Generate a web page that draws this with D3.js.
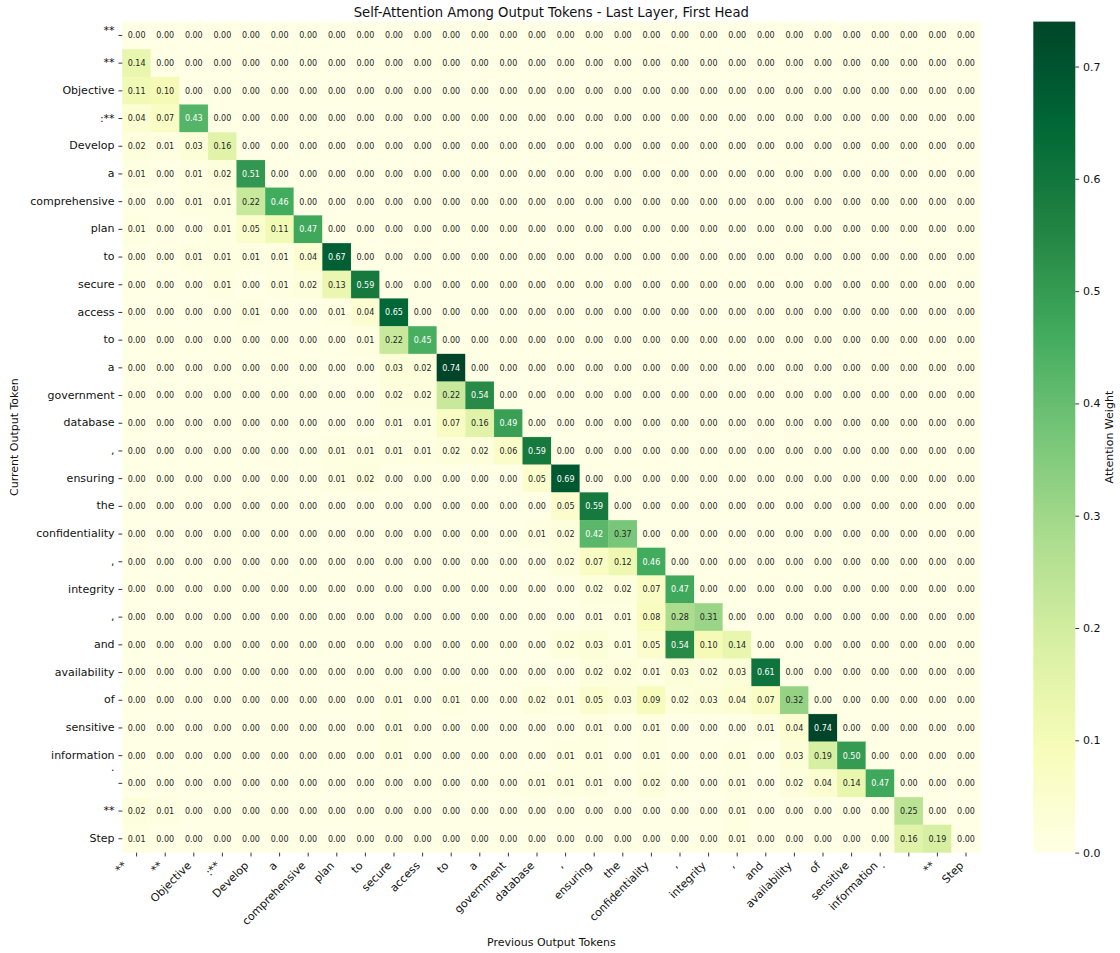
<!DOCTYPE html>
<html><head><meta charset="utf-8">
<script src="https://cdn.jsdelivr.net/npm/d3@7"></script>
<style>body{margin:0;background:#fff} svg text{font-family:"DejaVu Sans",sans-serif}</style>
</head><body><svg id="c" width="1120" height="953"></svg>
<script>
// ---- data ----
const tokens = ["**\n","**","Objective",":**","Develop","a","comprehensive","plan","to","secure","access","to","a","government","database",",","ensuring","the","confidentiality",",","integrity",",","and","availability","of","sensitive","information",".\n\n\n","**","Step"];
const attention = [
[0,0,0,0,0,0,0,0,0,0,0,0,0,0,0,0,0,0,0,0,0,0,0,0,0,0,0,0,0,0],
[0.14,0,0,0,0,0,0,0,0,0,0,0,0,0,0,0,0,0,0,0,0,0,0,0,0,0,0,0,0,0],
[0.11,0.10,0,0,0,0,0,0,0,0,0,0,0,0,0,0,0,0,0,0,0,0,0,0,0,0,0,0,0,0],
[0.04,0.07,0.43,0,0,0,0,0,0,0,0,0,0,0,0,0,0,0,0,0,0,0,0,0,0,0,0,0,0,0],
[0.02,0.01,0.03,0.16,0,0,0,0,0,0,0,0,0,0,0,0,0,0,0,0,0,0,0,0,0,0,0,0,0,0],
[0.01,0,0.01,0.02,0.51,0,0,0,0,0,0,0,0,0,0,0,0,0,0,0,0,0,0,0,0,0,0,0,0,0],
[0,0,0.01,0.01,0.22,0.46,0,0,0,0,0,0,0,0,0,0,0,0,0,0,0,0,0,0,0,0,0,0,0,0],
[0.01,0,0,0.01,0.05,0.11,0.47,0,0,0,0,0,0,0,0,0,0,0,0,0,0,0,0,0,0,0,0,0,0,0],
[0,0,0.01,0.01,0.01,0.01,0.04,0.67,0,0,0,0,0,0,0,0,0,0,0,0,0,0,0,0,0,0,0,0,0,0],
[0,0,0,0.01,0,0.01,0.02,0.13,0.59,0,0,0,0,0,0,0,0,0,0,0,0,0,0,0,0,0,0,0,0,0],
[0,0,0,0,0.01,0,0,0.01,0.04,0.65,0,0,0,0,0,0,0,0,0,0,0,0,0,0,0,0,0,0,0,0],
[0,0,0,0,0,0,0,0,0.01,0.22,0.45,0,0,0,0,0,0,0,0,0,0,0,0,0,0,0,0,0,0,0],
[0,0,0,0,0,0,0,0,0,0.03,0.02,0.74,0,0,0,0,0,0,0,0,0,0,0,0,0,0,0,0,0,0],
[0,0,0,0,0,0,0,0,0,0.02,0.02,0.22,0.54,0,0,0,0,0,0,0,0,0,0,0,0,0,0,0,0,0],
[0,0,0,0,0,0,0,0,0,0.01,0.01,0.07,0.16,0.49,0,0,0,0,0,0,0,0,0,0,0,0,0,0,0,0],
[0,0,0,0,0,0,0,0.01,0.01,0.01,0.01,0.02,0.02,0.06,0.59,0,0,0,0,0,0,0,0,0,0,0,0,0,0,0],
[0,0,0,0,0,0,0,0.01,0.02,0,0,0,0,0,0.05,0.69,0,0,0,0,0,0,0,0,0,0,0,0,0,0],
[0,0,0,0,0,0,0,0,0,0,0,0,0,0,0,0.05,0.59,0,0,0,0,0,0,0,0,0,0,0,0,0],
[0,0,0,0,0,0,0,0,0,0,0,0,0,0,0.01,0.02,0.42,0.37,0,0,0,0,0,0,0,0,0,0,0,0],
[0,0,0,0,0,0,0,0,0,0,0,0,0,0,0,0.02,0.07,0.12,0.46,0,0,0,0,0,0,0,0,0,0,0],
[0,0,0,0,0,0,0,0,0,0,0,0,0,0,0,0,0.02,0.02,0.07,0.47,0,0,0,0,0,0,0,0,0,0],
[0,0,0,0,0,0,0,0,0,0,0,0,0,0,0,0,0.01,0.01,0.08,0.28,0.31,0,0,0,0,0,0,0,0,0],
[0,0,0,0,0,0,0,0,0,0,0,0,0,0,0,0.02,0.03,0.01,0.05,0.54,0.10,0.14,0,0,0,0,0,0,0,0],
[0,0,0,0,0,0,0,0,0,0,0,0,0,0,0,0,0.02,0.02,0.01,0.03,0.02,0.03,0.61,0,0,0,0,0,0,0],
[0,0,0,0,0,0,0,0,0,0.01,0,0.01,0,0,0.02,0.01,0.05,0.03,0.09,0.02,0.03,0.04,0.07,0.32,0,0,0,0,0,0],
[0,0,0,0,0,0,0,0,0,0.01,0,0,0,0,0,0,0.01,0,0.01,0,0,0,0.01,0.04,0.74,0,0,0,0,0],
[0,0,0,0,0,0,0,0,0,0.01,0,0,0,0,0,0.01,0.01,0,0.01,0,0,0.01,0,0.03,0.19,0.50,0,0,0,0],
[0,0,0,0,0,0,0,0,0,0,0,0,0,0,0.01,0.01,0.01,0,0.02,0,0,0.01,0,0.02,0.04,0.14,0.47,0,0,0],
[0.02,0.01,0,0,0,0,0,0,0,0,0,0,0,0,0,0,0,0,0,0,0,0.01,0,0,0,0,0,0.25,0,0],
[0.01,0,0,0,0,0,0,0,0,0,0,0,0,0,0,0,0,0,0,0,0,0.01,0,0,0,0,0,0.16,0.19,0]
];
const colorTicks = [0, 0.1, 0.2, 0.3, 0.4, 0.5, 0.6, 0.7];
const ylgn = ["#ffffe5","#f7fcb9","#d9f0a3","#addd8e","#78c679","#41ab5d","#238443","#006837","#004529"];
const titleText = "Self-Attention Among Output Tokens - Last Layer, First Head";
const xLabel = "Previous Output Tokens";
const yLabel = "Current Output Token";
const cbarLabel = "Attention Weight";

// ---- layout ----
const L = 122.3, R = 980.3, T = 21.6, B = 852.6;
const FS = 11, TICK = 3.85, PAD = 3.85;
const STEP = 0.912 * FS; // matplotlib line step
const svg = d3.select("#c");
const n = tokens.length;
const vmax = d3.max(attention.flat());

const x = d3.scaleBand().domain(d3.range(n)).range([L, R]).padding(0);
const y = d3.scaleBand().domain(d3.range(n)).range([T, B]).padding(0);
const color = d3.scaleLinear()
  .domain(ylgn.map((_, i) => vmax * i / (ylgn.length - 1)))
  .range(ylgn).interpolate(d3.interpolateRgb).clamp(true);

function lum(c) {
  const rgb = d3.rgb(c);
  const f = v => { v /= 255; return v <= 0.03928 ? v / 12.92 : Math.pow((v + 0.055) / 1.055, 2.4); };
  return 0.2126 * f(rgb.r) + 0.7152 * f(rgb.g) + 0.0722 * f(rgb.b);
}

const cells = [];
attention.forEach((row, i) => row.forEach((v, j) => cells.push({i, j, v})));

const g = svg.append("g");
g.selectAll("rect").data(cells).join("rect")
  .attr("x", d => x(d.j)).attr("y", d => y(d.i))
  .attr("width", x.bandwidth()).attr("height", y.bandwidth())
  .attr("fill", d => color(d.v)).attr("stroke", d => color(d.v)).attr("stroke-width", 0.3);

g.selectAll("text.ann").data(cells).join("text").attr("class", "ann")
  .attr("x", d => x(d.j) + x.bandwidth() / 2)
  .attr("y", d => y(d.i) + y.bandwidth() / 2 + 2.9)
  .attr("text-anchor", "middle").attr("font-size", 8)
  .attr("fill", d => lum(color(d.v)) > 0.408 ? "#262626" : "#ffffff")
  .text(d => d3.format(".2f")(d.v));

// ---- axes (ticks) ----
const yAx = svg.append("g").attr("transform", `translate(${L},0)`)
  .call(d3.axisLeft(y).tickSize(TICK).tickFormat(() => ""));
const xAx = svg.append("g").attr("transform", `translate(0,${B})`)
  .call(d3.axisBottom(x).tickSize(TICK).tickFormat(() => ""));
[yAx, xAx].forEach(a => {
  a.select(".domain").remove();
  a.selectAll(".tick line").attr("stroke", "#222").attr("stroke-width", 0.9);
});

// y tick labels
tokens.forEach((t, i) => {
  const lines = t.split("\n");
  const nl = lines.length;
  const cy = y(i) + y.bandwidth() / 2;
  lines.forEach((ln, k) => {
    if (!ln) return;
    svg.append("text")
      .attr("x", L - TICK - PAD).attr("y", cy + (k - (nl - 1) / 2) * STEP + 0.28 * FS)
      .attr("text-anchor", "end").attr("font-size", FS).attr("fill", "#111").text(ln);
  });
});
// x tick labels (rotated 45)
tokens.forEach((t, j) => {
  const lines = t.split("\n");
  const nl = lines.length;
  const cx = x(j) + x.bandwidth() / 2;
  const ex = cx - 0.707 * 0.24 * FS - (nl - 1) * STEP * 0.707;
  const ey = B + TICK + PAD + 0.707 * 0.76 * FS;
  svg.append("text")
    .attr("transform", `translate(${ex},${ey}) rotate(-45)`)
    .attr("text-anchor", "end").attr("font-size", FS).attr("fill", "#111").text(lines[0]);
});

// axis labels & title
svg.append("text").attr("x", (L + R) / 2).attr("y", 16.5).attr("text-anchor", "middle")
  .attr("font-size", 13.2).attr("fill", "#111").text(titleText);
svg.append("text").attr("x", (L + R) / 2).attr("y", 946).attr("text-anchor", "middle")
  .attr("font-size", FS).attr("fill", "#111").text(xLabel);
svg.append("text").attr("transform", `translate(18,${(T + B) / 2}) rotate(-90)`)
  .attr("text-anchor", "middle").attr("font-size", FS).attr("fill", "#111").text(yLabel);

// ---- colorbar ----
const CX0 = 1033.3, CX1 = 1075.3;
const cs = d3.scaleLinear().domain([0, vmax]).range([B, T]);
const defs = svg.append("defs");
const grad = defs.append("linearGradient").attr("id", "cg")
  .attr("x1", 0).attr("y1", 1).attr("x2", 0).attr("y2", 0);
d3.range(0, 1.0001, 0.02).forEach(p => grad.append("stop")
  .attr("offset", p).attr("stop-color", color(p * vmax)));
svg.append("rect").attr("x", CX0).attr("y", T).attr("width", CX1 - CX0).attr("height", B - T)
  .attr("fill", "url(#cg)");
const cAx = svg.append("g").attr("transform", `translate(${CX1},0)`)
  .call(d3.axisRight(cs).tickValues(colorTicks).tickSize(TICK).tickPadding(PAD).tickFormat(d3.format(".1f")));
cAx.select(".domain").remove();
cAx.selectAll(".tick line").attr("stroke", "#222").attr("stroke-width", 0.9);
cAx.selectAll(".tick text").attr("font-size", FS).attr("fill", "#111")
  .attr("font-family", '"DejaVu Sans",sans-serif');
svg.append("text").attr("transform", `translate(1113,${(T + B) / 2}) rotate(-90)`)
  .attr("text-anchor", "middle").attr("font-size", FS).attr("fill", "#111").text(cbarLabel);
</script></body></html>
